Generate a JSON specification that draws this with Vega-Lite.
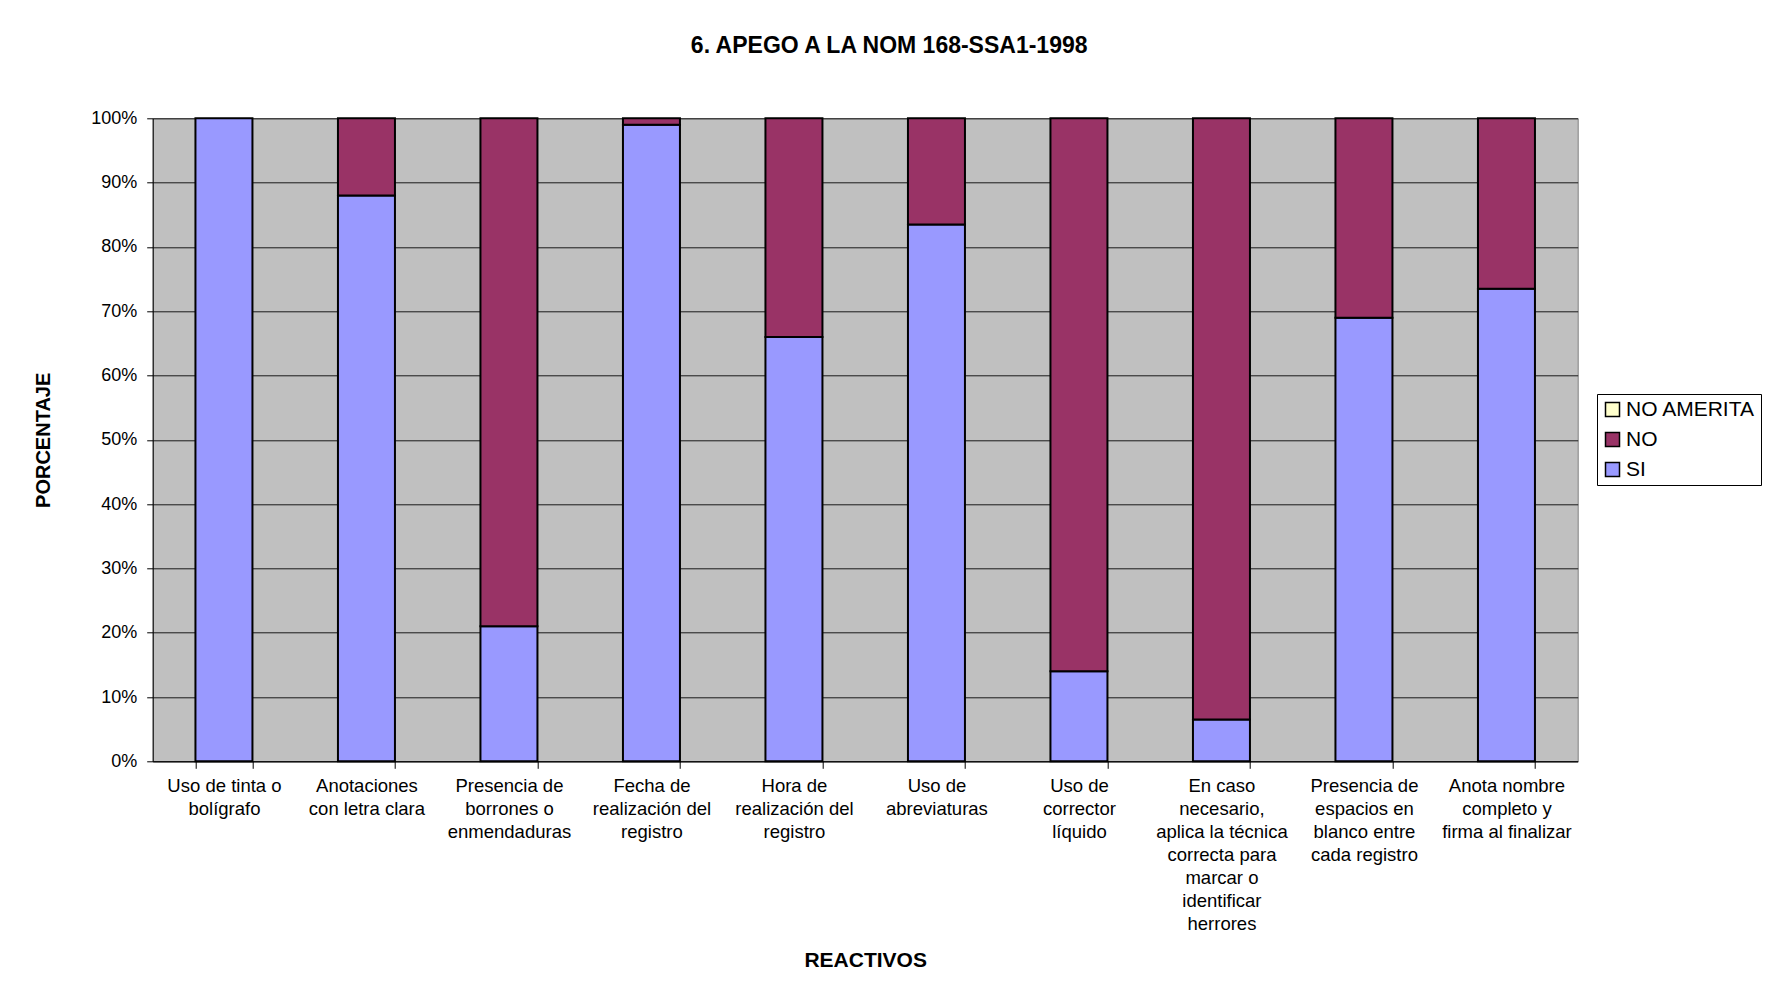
{
  "$schema": "https://vega.github.io/schema/vega-lite/v6.json",
  "width": 1425,
  "height": 643,
  "autosize": {"type": "none"},
  "padding": {"left": 152.7, "top": 118.3, "right": 193.3, "bottom": 231.7},
  "background": "white",
  "title": {
    "text": "6. APEGO A LA NOM 168-SSA1-1998",
    "font": "Liberation Sans",
    "fontSize": 23,
    "fontWeight": "bold",
    "color": "black",
    "anchor": "middle",
    "dx": 24,
    "offset": 33,
    "baseline": "alphabetic"
  },
  "data": {
    "values": [
      {"reactivo": "Uso de tinta o|bolígrafo", "respuesta": "SI", "orden": 1, "pct": 100},
      {"reactivo": "Anotaciones|con letra clara", "respuesta": "SI", "orden": 1, "pct": 88},
      {"reactivo": "Anotaciones|con letra clara", "respuesta": "NO", "orden": 2, "pct": 12},
      {"reactivo": "Presencia de|borrones o|enmendaduras", "respuesta": "SI", "orden": 1, "pct": 21},
      {"reactivo": "Presencia de|borrones o|enmendaduras", "respuesta": "NO", "orden": 2, "pct": 79},
      {"reactivo": "Fecha de|realización del|registro", "respuesta": "SI", "orden": 1, "pct": 99},
      {"reactivo": "Fecha de|realización del|registro", "respuesta": "NO", "orden": 2, "pct": 1},
      {"reactivo": "Hora de|realización del|registro", "respuesta": "SI", "orden": 1, "pct": 66},
      {"reactivo": "Hora de|realización del|registro", "respuesta": "NO", "orden": 2, "pct": 34},
      {"reactivo": "Uso de|abreviaturas", "respuesta": "SI", "orden": 1, "pct": 83.5},
      {"reactivo": "Uso de|abreviaturas", "respuesta": "NO", "orden": 2, "pct": 16.5},
      {"reactivo": "Uso de|corrector|líquido", "respuesta": "SI", "orden": 1, "pct": 14},
      {"reactivo": "Uso de|corrector|líquido", "respuesta": "NO", "orden": 2, "pct": 86},
      {"reactivo": "En caso|necesario,|aplica la técnica|correcta para|marcar o|identificar|herrores", "respuesta": "SI", "orden": 1, "pct": 6.5},
      {"reactivo": "En caso|necesario,|aplica la técnica|correcta para|marcar o|identificar|herrores", "respuesta": "NO", "orden": 2, "pct": 93.5},
      {"reactivo": "Presencia de|espacios en|blanco entre|cada registro", "respuesta": "SI", "orden": 1, "pct": 69},
      {"reactivo": "Presencia de|espacios en|blanco entre|cada registro", "respuesta": "NO", "orden": 2, "pct": 31},
      {"reactivo": "Anota nombre|completo y|firma al finalizar", "respuesta": "SI", "orden": 1, "pct": 73.5},
      {"reactivo": "Anota nombre|completo y|firma al finalizar", "respuesta": "NO", "orden": 2, "pct": 26.5}
    ]
  },
  "mark": {"type": "bar", "stroke": "black", "strokeWidth": 2},
  "encoding": {
    "x": {
      "field": "reactivo",
      "type": "nominal",
      "sort": null,
      "scale": {"paddingInner": 0.6, "paddingOuter": 0.3},
      "axis": {
        "title": "REACTIVOS",
        "titleFont": "Liberation Sans",
        "titleFontSize": 21,
        "titleFontWeight": "bold",
        "titleColor": "black",
        "titleY": 205,
        "titleBaseline": "alphabetic",
        "labelExpr": "split(datum.label, '|')",
        "labelAngle": 0,
        "labelFont": "Liberation Sans",
        "labelFontSize": 18.5,
        "labelLineHeight": 23,
        "labelColor": "black",
        "labelLimit": 0,
        "labelOverlap": false,
        "labelPadding": 8,
        "labelBaseline": "top",
        "tickBand": "extent",
        "tickSize": 7,
        "tickColor": "black",
        "domainColor": "black",
        "grid": false
      }
    },
    "y": {
      "field": "pct",
      "type": "quantitative",
      "stack": "normalize",
      "scale": {"domain": [0, 1], "nice": false},
      "axis": {
        "values": [0, 0.1, 0.2, 0.3, 0.4, 0.5, 0.6, 0.7, 0.8, 0.9, 1],
        "format": ".0%",
        "title": "PORCENTAJE",
        "titleFont": "Liberation Sans",
        "titleFontSize": 20,
        "titleFontWeight": "bold",
        "titleColor": "black",
        "titleX": -103,
        "titleBaseline": "alphabetic",
        "labelFont": "Liberation Sans",
        "labelFontSize": 18,
        "labelColor": "black",
        "labelPadding": 10,
        "tickSize": 6,
        "tickColor": "black",
        "domainColor": "black",
        "grid": true,
        "gridColor": "#1a1a1a"
      }
    },
    "color": {
      "field": "respuesta",
      "type": "nominal",
      "scale": {"domain": ["NO AMERITA", "NO", "SI"], "range": ["#FFFFCC", "#993366", "#9999FF"]},
      "legend": {
        "title": null,
        "orient": "none",
        "legendX": 1444.3,
        "legendY": 275.7,
        "padding": 5,
        "fillColor": "white",
        "strokeColor": "black",
        "symbolType": "square",
        "symbolSize": 196,
        "symbolStrokeColor": "black",
        "symbolStrokeWidth": 1.5,
        "labelFont": "Liberation Sans",
        "labelFontSize": 21,
        "labelColor": "black",
        "labelOffset": 3,
        "rowPadding": 8
      }
    },
    "order": {"field": "orden", "type": "quantitative"}
  },
  "config": {
    "view": {"fill": "#C0C0C0", "stroke": "#808080"}
  }
}
